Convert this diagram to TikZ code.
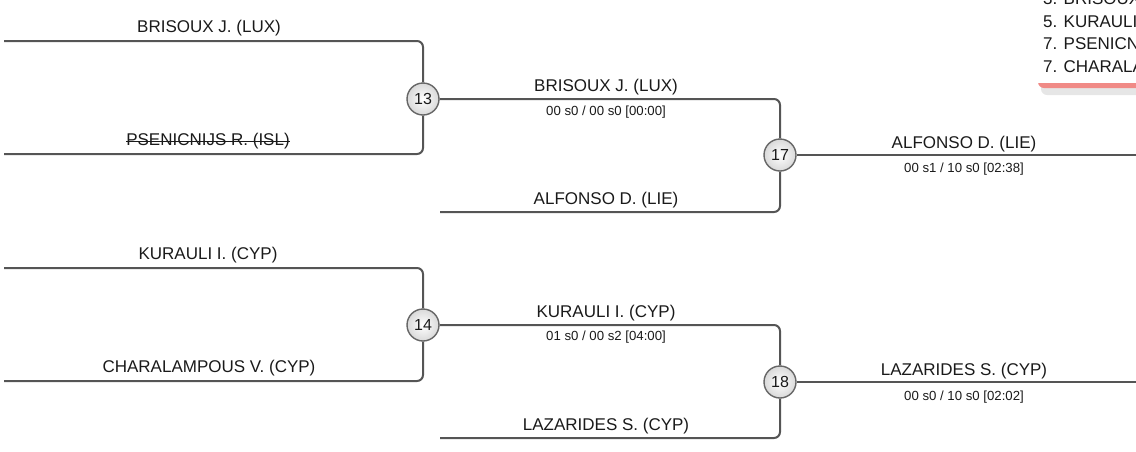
\documentclass[tikz,border=0pt]{standalone}
\usepackage{fontspec}
\setmainfont{Liberation Sans}
\definecolor{linegray}{HTML}{555555}
\definecolor{circgray}{HTML}{666666}
\definecolor{textcol}{HTML}{1A1A1A}
\definecolor{barred}{HTML}{F08A86}
\definecolor{shadowgray}{HTML}{E6E6E6}
\begin{document}
\begin{tikzpicture}[x=1pt,y=-1pt,
  conn/.style={draw=linegray,line width=2pt,rounded corners=6pt},
  match/.style={circle,minimum size=32pt,inner sep=0pt,draw=circgray,line width=1.4pt,
    inner color=white,outer color=gray!30,text=textcol,font=\fontsize{16}{16}\selectfont},
  entrant/.style={anchor=base,inner sep=0pt,text=textcol,font=\fontsize{17}{19}\selectfont},
  score/.style={anchor=base,inner sep=0pt,text=textcol,font=\fontsize{13.2}{15}\selectfont},
  rank/.style={anchor=base west,inner sep=0pt,text=textcol,font=\fontsize{17}{19}\selectfont}]
\useasboundingbox (0,0) rectangle (1136,451);
\clip (0,0) rectangle (1136,451);

% free ends
\coordinate (s1) at (4,41);
\coordinate (s2) at (4,154);
\coordinate (s3) at (4,268);
\coordinate (s4) at (4,381);
\coordinate (t1) at (440,212);
\coordinate (t2) at (440,438);
\coordinate (e17) at (1140,155);
\coordinate (e18) at (1140,382);

% matches
\node[match] (m13) at (423,99) {13};
\node[match] (m14) at (423,325) {14};
\node[match] (m17) at (780,155) {17};
\node[match] (m18) at (780,382) {18};

% connectors
\draw[conn] (s1) -| (m13);
\draw[conn] (s2) -| (m13);
\draw[conn] (s3) -| (m14);
\draw[conn] (s4) -| (m14);
\draw[conn] (m13) -| (m17);
\draw[conn] (t1) -| (m17);
\draw[conn] (m14) -| (m18);
\draw[conn] (t2) -| (m18);
\draw[conn] (m17) -- (e17);
\draw[conn] (m18) -- (e18);

% left labels
\node[entrant] (l1) at (209,32) {BRISOUX J. (LUX)};
\node[entrant] (l2) at (208,145) {PSENICNIJS R. (ISL)};
\draw[textcol,line width=1pt] ([yshift=4pt]l2.base west) -- ([yshift=4pt]l2.base east);
\node[entrant] (l3) at (208,259) {KURAULI I. (CYP)};
\node[entrant] (l4) at (209,372) {CHARALAMPOUS V. (CYP)};

% middle labels
\node[entrant] (w13) at (606,91) {BRISOUX J. (LUX)};
\node[score] (sc13) at (606,115) {00 s0 / 00 s0 [00:00]};
\node[entrant] (l5) at (606,204) {ALFONSO D. (LIE)};
\node[entrant] (w14) at (606,317) {KURAULI I. (CYP)};
\node[score] (sc14) at (606,340) {01 s0 / 00 s2 [04:00]};
\node[entrant] (l6) at (606,430) {LAZARIDES S. (CYP)};

% right labels
\node[entrant] (w17) at (964,148) {ALFONSO D. (LIE)};
\node[score] (sc17) at (964,172) {00 s1 / 10 s0 [02:38]};
\node[entrant] (w18) at (964,375) {LAZARIDES S. (CYP)};
\node[score] (sc18) at (964,400) {00 s0 / 10 s0 [02:02]};

% ranking panel (cut off at the edge)
\fill[shadowgray,rounded corners=6pt] (1041,-20) rectangle (1170,95);
\fill[barred,rounded corners=6pt] (1038,-20) rectangle (1170,88);
\fill[white] (1038,-20) rectangle (1170,83);
\node[rank] (r1) at (1043,4) {3. BRISOUX J. (LUX)};
\node[rank] (r2) at (1043,27) {5. KURAULI I. (CYP)};
\node[rank] (r3) at (1043,49) {7. PSENICNIJS R. (ISL)};
\node[rank] (r4) at (1043,72) {7. CHARALAMPOUS V. (CYP)};
\end{tikzpicture}
\end{document}
